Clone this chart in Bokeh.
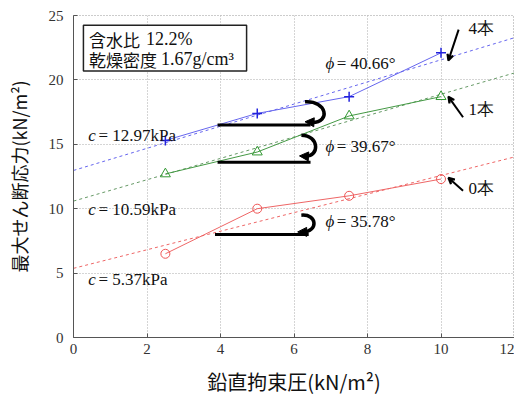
import numpy as np
from bokeh.plotting import figure
from bokeh.models import (Label, BoxAnnotation, Arrow, NormalHead, VeeHead,
                          FixedTicker)
from bokeh.embed import file_html
from bokeh.resources import INLINE

# ---- data ----
sigma = [2.5, 5.0, 7.5, 10.0]
tau_4 = [15.3, 17.4, 18.7, 22.1]
tau_1 = [12.7, 14.4, 17.2, 18.7]
tau_0 = [6.5, 10.0, 11.0, 12.3]
c_vals = [12.97, 10.59, 5.37]        # 4本, 1本, 0本
phi_vals = [40.66, 39.67, 35.78]
x_ticks = [0, 2, 4, 6, 8, 10, 12]
y_ticks = [0, 5, 10, 15, 20, 25]

SERIF = "Liberation Serif"
CJK = "Noto Sans CJK JP"

p = figure(width=514, height=398, x_range=(0, 12), y_range=(0, 25),
           output_backend="svg", toolbar_location=None,
           min_border_left=73, min_border_right=0, min_border_top=15, min_border_bottom=51)

p.background_fill_color = "white"
p.outline_line_color = "#999999"
p.outline_line_dash = "1 2"
p.xaxis.ticker = FixedTicker(ticks=x_ticks)
p.yaxis.ticker = FixedTicker(ticks=y_ticks)
for ax in (p.xaxis[0], p.yaxis[0]):
    ax.major_label_text_font = SERIF
    ax.major_label_text_font_size = "15px"
    ax.major_label_text_color = "#333333"
    ax.axis_line_color = "#555555"
    ax.major_tick_in = 4
    ax.major_tick_out = 0
    ax.minor_tick_line_color = None
    ax.major_tick_line_color = "#555555"
    ax.axis_label_text_font = CJK
    ax.axis_label_text_font_style = "normal"
    ax.axis_label_text_color = "#111111"
p.xaxis.axis_label = "鉛直拘束圧(kN/m²)"
p.yaxis.axis_label = "最大せん断応力(kN/m²)"
p.xaxis.axis_label_text_font_size = "20px"
p.yaxis.axis_label_text_font_size = "18px"
p.xaxis.axis_label_standoff = 10
p.yaxis.axis_label_standoff = 14
p.xaxis.major_label_standoff = 6
p.yaxis.major_label_standoff = 10
p.grid.grid_line_color = "#aaaaaa"
p.grid.grid_line_dash = "1 2"
p.grid.grid_line_width = 1

# ---- fit lines ----
xf = [0, 12]
fit_colors = ["#6666ee", "#669966", "#ee6666"]
for c, phi, col in zip(c_vals, phi_vals, fit_colors):
    t = np.tan(np.radians(phi))
    p.line(xf, [c + xi * t for xi in xf], line_color=col, line_dash="3 3", line_width=1)

# ---- data lines ----
p.line(sigma, tau_4, line_color="#6666ee", line_width=1)
p.scatter(sigma, tau_4, marker="cross", size=10, line_color="#2222dd", line_width=1.5)
p.line(sigma, tau_1, line_color="#449944", line_width=1)
p.scatter(sigma, tau_1, marker="triangle", size=10, line_color="#339933",
          fill_color=None, line_width=1)
p.line(sigma, tau_0, line_color="#ee6666", line_width=1)
p.scatter(sigma, tau_0, marker="circle", size=9, line_color="#ee5555",
          fill_color=None, line_width=1)

# ---- black bars and curved arrows ----
p.segment(x0=[3.92, 3.92, 3.85], y0=[16.5, 13.6, 8.0],
          x1=[6.45, 6.45, 6.4], y1=[16.5, 13.6, 8.0],
          line_color="black", line_width=3)
p.bezier(x0=[6.3, 6.2, 6.2], y0=[18.3, 15.7, 9.5],
         x1=[6.5, 6.3, 6.25], y1=[16.7, 14.1, 8.2],
         cx0=[6.9, 6.7, 6.65], cy0=[18.4, 15.7, 9.6],
         cx1=[7.0, 6.7, 6.65], cy1=[16.7, 14.0, 8.2],
         line_color="black", line_width=3.5)
for xs, ys, xe, ye in [(6.6, 16.7, 6.3, 16.75), (6.45, 14.05, 6.15, 14.1), (6.4, 8.2, 6.1, 8.2)]:
    p.add_layout(Arrow(end=NormalHead(size=9, fill_color="black", line_color="black"),
                       x_start=xs, y_start=ys, x_end=xe, y_end=ye,
                       line_color="black", line_width=1))

# ---- pointer arrows ----
for xs, ys, xe, ye in [(10.48, 23.9, 10.2, 21.5), (10.6, 17.1, 10.2, 18.7), (10.6, 11.4, 10.2, 12.4)]:
    p.add_layout(Arrow(end=VeeHead(size=6, line_color="black", line_width=2),
                       x_start=xs, y_start=ys, x_end=xe, y_end=ye,
                       line_color="black", line_width=2))

def lab(x, y, text, font=SERIF, size="16px", style="normal", align="left"):
    p.add_layout(Label(x=x, y=y, text=text, text_font=font, text_font_size=size,
                       text_font_style=style, text_baseline="middle",
                       text_align=align, text_color="#111111"))

lab(10.75, 24.0, "4本", size="17px")
lab(10.75, 17.7, "1本", size="17px")
lab(10.75, 11.6, "0本", size="17px")

for y, c in zip([15.7, 9.9, 4.5], c_vals):
    lab(0.4, y, "c", style="italic", size="17px")
    lab(0.68, y, f"= {c:.2f}kPa", size="17px")
for y, phi in zip([21.3, 14.8, 9.0], phi_vals):
    lab(6.86, y, "ϕ", style="italic", size="17px")
    lab(7.16, y, f"= {phi:.2f}°", size="17px")

# ---- info box ----
p.add_layout(BoxAnnotation(left=0.27, right=4.71, top=24.25, bottom=20.7,
                           fill_color="white", fill_alpha=1,
                           line_color="#222222", line_alpha=1, line_width=1.5))
lab(0.42, 23.15, "含水比", font=CJK, size="17px")
lab(1.97, 23.15, "12.2%", size="18px")
lab(0.42, 21.6, "乾燥密度", font=CJK, size="17px")
lab(2.38, 21.6, "1.67g/cm³", size="18px")

open("out.html", "w").write(file_html(p, INLINE))
